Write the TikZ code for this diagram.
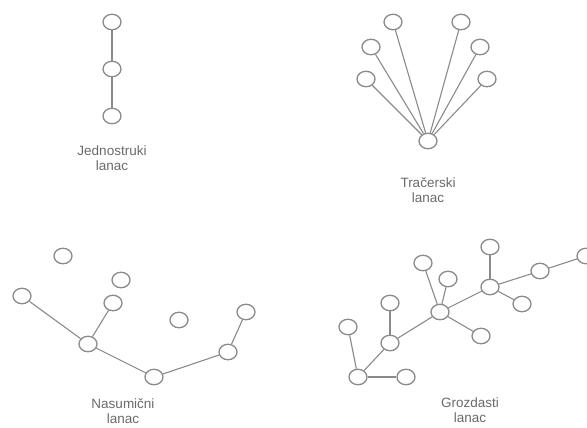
\documentclass[tikz,border=0pt]{standalone}
\usepackage{fontspec}
\setmainfont{Liberation Sans}
\usetikzlibrary{shapes.geometric}
\definecolor{edgegray}{HTML}{8A8A8A}
\definecolor{textgray}{HTML}{6A6A6A}
\begin{document}
\begin{tikzpicture}[x=1pt,y=-1pt,
  bead/.style={ellipse,draw=edgegray,fill=white,line width=1.3pt,minimum width=18pt,minimum height=15.5pt,inner sep=0pt},
  link/.style={draw=edgegray,line width=1.1pt},
  caption/.style={text=textgray,font=\fontsize{13.5}{15.5}\selectfont,align=center}]
\useasboundingbox (0,0) rectangle (587,428);
\clip (0,0) rectangle (587,428);
% Jednostruki
\node[bead] (s1) at (112,22) {};
\node[bead] (s2) at (112,69) {};
\node[bead] (s3) at (112,116) {};
\draw[link] (s1) -- (s2);
\draw[link] (s2) -- (s3);
\node[caption] (cs) at (112,158) {Jednostruki\\lanac};
% Tracerski
\node[bead] (t0) at (428,141) {};
\node[bead] (t1) at (393,22) {};
\node[bead] (t2) at (461,22) {};
\node[bead] (t3) at (371,47) {};
\node[bead] (t4) at (480,47) {};
\node[bead] (t5) at (366,79) {};
\node[bead] (t6) at (487,79) {};
\foreach \i in {1,...,6} {\draw[link] (t0) -- (t\i);}
\node[caption] (ct) at (428,190) {Tračerski\\lanac};
% Nasumicni
\node[bead] (n1) at (63,256) {};
\node[bead] (n2) at (121,280) {};
\node[bead] (n3) at (22,296) {};
\node[bead] (n4) at (113,303) {};
\node[bead] (n5) at (179,320) {};
\node[bead] (n6) at (246,312) {};
\node[bead] (n7) at (88,344) {};
\node[bead] (n8) at (228,352) {};
\node[bead] (n9) at (154,377) {};
\draw[link] (n3) -- (n7);
\draw[link] (n4) -- (n7);
\draw[link] (n7) -- (n9);
\draw[link] (n9) -- (n8);
\draw[link] (n8) -- (n6);
\node[caption] (cn) at (123,411) {Nasumični\\lanac};
% Grozdasti
\node[bead] (gA) at (490,247) {};
\node[bead] (gB) at (423,263) {};
\node[bead] (gC) at (448,279) {};
\node[bead] (gD) at (540,271) {};
\node[bead] (gE) at (586,256) {};
\node[bead] (gF) at (490,287) {};
\node[bead] (gG) at (522,304) {};
\node[bead] (gH) at (390,303) {};
\node[bead] (gI) at (440,312) {};
\node[bead] (gJ) at (348,327) {};
\node[bead] (gK) at (481,336) {};
\node[bead] (gL) at (390,343) {};
\node[bead] (gM) at (358,377) {};
\node[bead] (gN) at (406,377) {};
\draw[link] (gM) -- (gN);
\draw[link] (gM) -- (gJ);
\draw[link] (gM) -- (gL);
\draw[link] (gL) -- (gH);
\draw[link] (gL) -- (gI);
\draw[link] (gI) -- (gB);
\draw[link] (gI) -- (gC);
\draw[link] (gI) -- (gK);
\draw[link] (gI) -- (gF);
\draw[link] (gF) -- (gA);
\draw[link] (gF) -- (gG);
\draw[link] (gF) -- (gD);
\draw[link] (gD) -- (gE);
\node[caption] (cg) at (470,410) {Grozdasti\\lanac};
\end{tikzpicture}
\end{document}
